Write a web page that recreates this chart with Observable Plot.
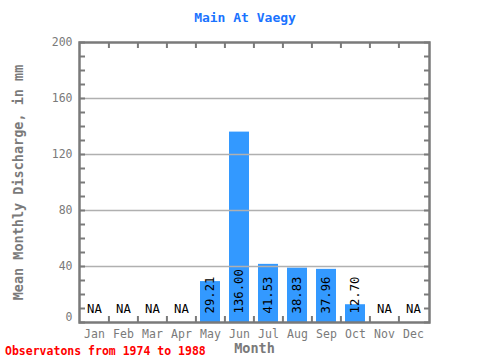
<!DOCTYPE html>
<html>
<head>
<meta charset="utf-8">
<script src="https://cdn.jsdelivr.net/npm/d3@7"></script>
<script src="https://cdn.jsdelivr.net/npm/@observablehq/plot@0.6"></script>
<style>
  body { margin: 0; background: #fff; }
  #wrap { position: relative; width: 480px; height: 360px; overflow: hidden; font-family: "DejaVu Sans Mono", monospace; }
  #title { position: absolute; top: 10px; left: 0; width: 490px; text-align: center; color: #1a73ff; font-weight: bold; font-size: 13px; }
  #caption { position: absolute; top: 344px; left: 5px; color: #ff0000; font-weight: bold; font-size: 11.5px; }
  #chart { position: absolute; top: 0; left: 0; }
</style>
</head>
<body>
<div id="wrap">
  <div id="chart"></div>
  <div id="title">Main At Vaegy</div>
  <div id="caption">Observatons from 1974 to 1988</div>
</div>
<script>
const months = ["Jan","Feb","Mar","Apr","May","Jun","Jul","Aug","Sep","Oct","Nov","Dec"];
const values = [null,null,null,null,29.21,136.00,41.53,38.83,37.96,12.70,null,null];
const yTicks = [40,80,120,160,200];
const yZeroTick = [0];
const yMinorTicks = d3.range(0, 201, 10);
const gridValues = [40,80,120,160];

const data = months.map((m, i) => ({month: m, value: values[i]}));
const present = data.filter(d => d.value != null);
const missing = data.filter(d => d.value == null);

const W = 480, H = 360;
const mL = 79, mR = 51, mT = 42, mB = 38;
const step = (W - mL - mR) / months.length;
const gray = "#7a7a7a";

const chart = Plot.plot({
  width: W,
  height: H,
  marginLeft: mL,
  marginRight: mR,
  marginTop: mT,
  marginBottom: mB,
  style: {fontFamily: "DejaVu Sans Mono, monospace", background: "transparent"},
  x: {type: "band", domain: months, paddingInner: 0.31, paddingOuter: 0.155, label: null},
  y: {domain: [0, 200], label: null},
  marks: [
    Plot.barY(present, {x: "month", y: "value", fill: "#3399ff"}),
    Plot.ruleY(gridValues, {stroke: "#b0b0b0", strokeWidth: 1.5}),
    Plot.text(present, {x: "month", y: 0, text: d => d.value.toFixed(2), rotate: -90, textAnchor: "start", dy: -9, fontSize: 12.3, fill: "#000"}),
    Plot.text(missing, {x: "month", y: 0, text: () => "NA", dy: -13, fontSize: 12.3, fill: "#000"}),
    Plot.ruleX(months.slice(1), {x: d => d, y1: 0, y2: 200 * 6 / (H - mT - mB), dx: -step / 2, stroke: gray, strokeWidth: 2}),
    Plot.ruleX(months.slice(1), {x: d => d, y1: 200, y2: 200 - 200 * 6 / (H - mT - mB), dx: -step / 2, stroke: gray, strokeWidth: 2}),
    Plot.axisY({ticks: yMinorTicks, tickSize: -6, text: null, stroke: gray, strokeWidth: 2}),
    Plot.axisY({anchor: "right", ticks: yMinorTicks, tickSize: -6, text: null, stroke: gray, strokeWidth: 2}),
    Plot.axisY({ticks: yTicks, tickSize: 0, tickPadding: 7, fontSize: 11.5, fill: gray, label: null}),
    Plot.axisY({ticks: yZeroTick, tickSize: 0, tickPadding: 7, dy: -5, fontSize: 11.5, fill: gray, label: null}),
    Plot.axisX({tickSize: 0, tickPadding: 7, fontSize: 11.5, fill: gray, label: null}),
    Plot.frame({stroke: gray, strokeWidth: 2.5}),
    Plot.text(["Month"], {frameAnchor: "bottom", lineAnchor: "middle", dy: 26, fontSize: 13.5, fontWeight: "bold", fill: gray, text: d => d}),
    Plot.text(["Mean Monthly Discharge, in mm"], {frameAnchor: "left", textAnchor: "middle", lineAnchor: "middle", dx: -61, rotate: -90, fontSize: 13.5, fontWeight: "bold", fill: gray, text: d => d})
  ]
});
document.getElementById("chart").appendChild(chart);
</script>
</body>
</html>
